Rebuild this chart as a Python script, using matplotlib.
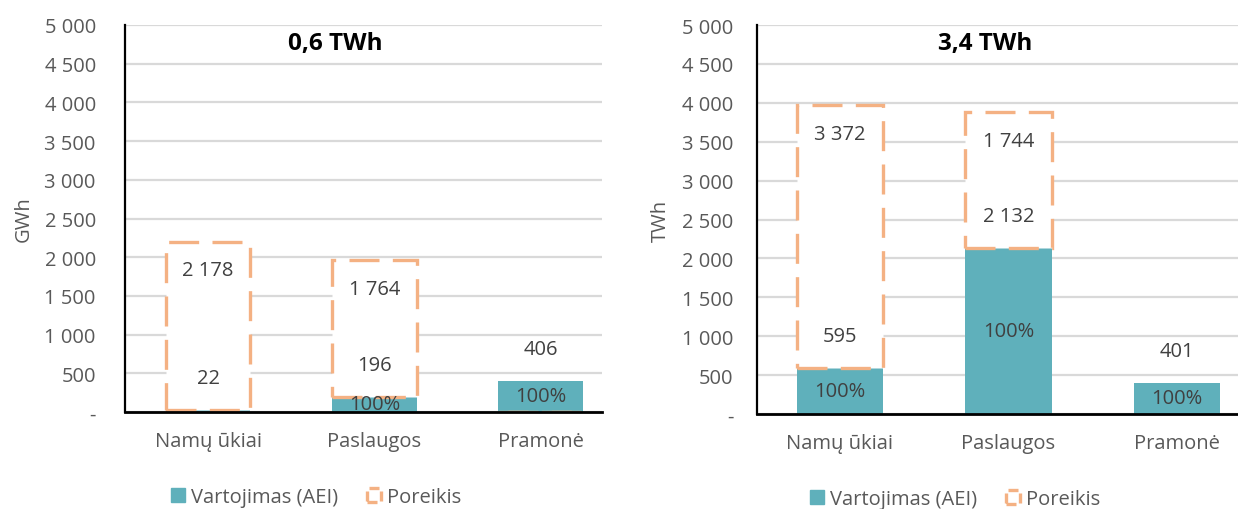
import matplotlib
matplotlib.use("Agg")
import matplotlib.pyplot as plt
from matplotlib.patches import Patch
from matplotlib.ticker import FuncFormatter

plt.rcParams["font.family"] = ["Open Sans", "DejaVu Sans"]

categories = ["Namų ūkiai", "Paslaugos", "Pramonė"]

# Left panel (0,6 TWh scenario), GWh
left_title = "0,6 TWh"
left_unit = "GWh"
left_use = [22, 196, 406]
left_need = [2178, 1764, 0]
left_pct = [None, 100, 100]

# Right panel (3,4 TWh scenario)
right_title = "3,4 TWh"
right_unit = "TWh"
right_use = [595, 2132, 401]
right_need = [3372, 1744, None]
right_pct = [100, 100, 100]

y_ticks = [0, 500, 1000, 1500, 2000, 2500, 3000, 3500, 4000, 4500, 5000]

TEAL = "#5FB0BB"
ORANGE = "#F4B183"
TXT = "#404040"
TICK = "#595959"
GRID = "#D9D9D9"
FS = 14.5


def fmt(v):
    return f"{v:,}".replace(",", " ")


def tick_fmt(v, _):
    return "-" if v == 0 else fmt(int(v))


def panel(ax, title, unit, use, need, pct, xlim, title_x, ypad):
    x = list(range(len(categories)))
    width = 0.51
    ax.set_xlim(*xlim)
    ax.set_ylim(0, 5000)
    ax.set_yticks(y_ticks)
    ax.yaxis.set_major_formatter(FuncFormatter(tick_fmt))
    ax.grid(axis="y", color=GRID, lw=1.6, zorder=0)
    ax.set_axisbelow(True)
    for s in ("top", "right"):
        ax.spines[s].set_visible(False)
    ax.spines["left"].set_color("black")
    ax.spines["left"].set_linewidth(1.6)
    ax.spines["bottom"].set_color("black")
    ax.spines["bottom"].set_linewidth(2.0)
    ax.spines["bottom"].set_zorder(4)
    ax.tick_params(axis="y", length=0, labelsize=FS, labelcolor=TICK, pad=ypad)
    ax.tick_params(axis="x", length=0, labelsize=FS, labelcolor=TICK, pad=14)
    ax.set_xticks(x)
    ax.set_xticklabels(categories)
    ax.set_ylabel(unit, fontsize=FS, color=TICK, labelpad=8)

    ax.bar(x, use, width=width, color=TEAL, zorder=2)

    for i, (u, n) in enumerate(zip(use, need)):
        if n is None:
            continue
        base = u if n > 0 else 0
        ax.bar(i, n, bottom=base, width=width, facecolor="white",
               edgecolor=ORANGE, linewidth=2.4, linestyle=(0, (9, 4)),
               zorder=3)
        if n > 0:
            ax.annotate(fmt(n), (i, base + n), xytext=(0, -20.5),
                        textcoords="offset points", ha="center", va="center",
                        fontsize=FS, color=TXT, zorder=5)

    for i, u in enumerate(use):
        ax.annotate(fmt(u), (i, u), xytext=(0, 23),
                    textcoords="offset points", ha="center", va="center",
                    fontsize=FS, color=TXT, zorder=5)
        if pct[i] is not None:
            ax.annotate(f"{pct[i]}%", (i, u / 2), ha="center", va="center",
                        fontsize=FS, color=TXT, zorder=5)

    ax.text(title_x, 0.954, title, transform=ax.transAxes, ha="center",
            va="center", fontsize=17.5, fontweight="bold", color="black")


fig = plt.figure(figsize=(12.38, 5.10), dpi=100)
axL = fig.add_axes([125 / 1238, 97 / 510, 477 / 1238, 387 / 510])
axR = fig.add_axes([757 / 1238, 95 / 510, 481 / 1238, 389 / 510])

panel(axL, left_title, left_unit, left_use, left_need, left_pct,
      (-0.5, 2.37), 0.44, 21)
panel(axR, right_title, right_unit, right_use, right_need, right_pct,
      (-0.49, 2.36), 0.475, 17)

handles = [
    Patch(facecolor=TEAL, edgecolor=TEAL, label="Vartojimas (AEI)"),
    Patch(facecolor="white", edgecolor=ORANGE, linewidth=2.4,
          linestyle=(0, (3, 1.5)), label="Poreikis"),
]
for cx, cy in ((316 / 1238, 12 / 510), (955 / 1238, 10 / 510)):
    fig.legend(handles=handles, loc="center", bbox_to_anchor=(cx, cy),
               ncol=2, frameon=False, fontsize=FS, handlelength=0.7,
               handleheight=0.7, handletextpad=0.3, columnspacing=1.4,
               labelcolor=TICK)

fig.savefig("out.png", dpi=100)
